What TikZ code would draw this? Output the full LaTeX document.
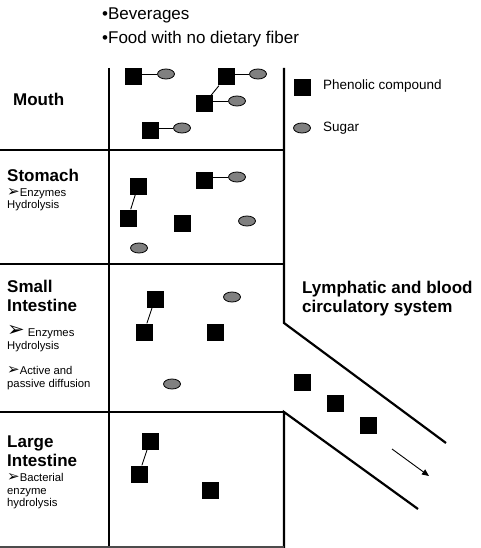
\documentclass[tikz,border=0pt]{standalone}
\usepackage{fontspec}
\setmainfont{Liberation Sans}
\newfontfamily\dejavu{DejaVu Sans}
\usetikzlibrary{shapes.geometric,arrows.meta}
\newcommand{\arrbul}{{\dejavu\fontsize{15}{12.8}\selectfont ➢}}
\newcommand{\arrbig}{{\dejavu\fontsize{21}{12.8}\selectfont ➢}}
\begin{document}
\begin{tikzpicture}[x=1pt,y=-1pt,
  phen/.style={fill=black,draw=none,minimum size=17pt,inner sep=0pt},
  sug/.style={ellipse,fill=black!50,draw=black,line width=0.8pt,minimum width=17pt,minimum height=10pt,inner sep=0pt},
  bond/.style={line width=0.9pt},
  wall/.style={line width=2.2pt},
  sep/.style={line width=1.2pt},
  big/.style={font=\fontsize{17}{19}\selectfont\bfseries,anchor=west,align=left,inner sep=0pt},
  mid/.style={font=\fontsize{13.5}{16}\selectfont,anchor=west,inner sep=0pt},
  small/.style={font=\fontsize{11.3}{12.8}\selectfont,anchor=north west,align=left,inner sep=0pt},
  top/.style={font=\fontsize{17}{19}\selectfont,anchor=west,inner sep=0pt}]
\useasboundingbox (0,0) rectangle (480,548);
% walls
\draw[wall] (109,68) -- (109,548);
\draw[wall] (284,68) -- (284,323) -- (446,443);
\draw[wall] (284,548) -- (284,412) -- (418,509);
% separators
\draw[sep] (0,150) -- (284,150);
\draw[sep] (0,264) -- (284,264);
\draw[sep] (0,412) -- (284,412);
\draw[sep,black!70] (0,547) -- (284,547);
% top text
\node[top] (bev) at (102,15) {\textbullet Beverages};
\node[top] (food) at (102,39) {\textbullet Food with no dietary fiber};
% labels
\node[big] (mouth) at (13,99) {Mouth};
\node[big] (stom) at (7,175) {Stomach};
\node[small] (stomt) at (7,188) {\arrbul Enzymes\\Hydrolysis};
\node[big,align=left] (si) at (7,296) {Small\\Intestine};
\node[small] (sit1) at (7,325) {\arrbig\ Enzymes\\Hydrolysis};
\node[small] (sit2) at (7,366) {\arrbul Active and\\passive diffusion};
\node[big,align=left] (li) at (7,451) {Large\\Intestine};
\node[small] (lit) at (7,473) {\arrbul Bacterial\\enzyme\\hydrolysis};
\node[big,align=left] (lymph) at (302,299) {Lymphatic and blood\\circulatory system};
% legend
\node[phen] (lp) at (302,88) {};
\node[mid] (lpt) at (323,86) {Phenolic compound};
\node[sug] (ls) at (302,128) {};
\node[mid] (lst) at (323,128) {Sugar};
% mouth
\node[phen] (m1) at (133,77) {};
\node[sug] (ms1) at (166,74) {};
\node[phen] (m2) at (226,77) {};
\node[sug] (ms2) at (258,74) {};
\node[phen] (m3) at (204,104) {};
\node[sug] (ms3) at (237,101) {};
\node[phen] (m4) at (150,131) {};
\node[sug] (ms4) at (182,128) {};
\draw[bond] (ms1.west) -- (ms1.west -| m1.east);
\draw[bond] (ms2.west) -- (ms2.west -| m2.east);
\draw[bond] (ms3.west) -- (ms3.west -| m3.east);
\draw[bond] (ms4.west) -- (ms4.west -| m4.east);
\draw[bond] (m2) -- (m3);
% stomach
\node[phen] (s1) at (138,186) {};
\node[phen] (s2) at (128,218) {};
\node[phen] (s3) at (204,180) {};
\node[sug] (ss3) at (237,177) {};
\node[phen] (s4) at (182,223) {};
\node[sug] (ss5) at (247,221) {};
\node[sug] (ss6) at (139,248) {};
\draw[bond] (s1) -- (s2);
\draw[bond] (ss3.west) -- (ss3.west -| s3.east);
% small intestine
\node[phen] (i1) at (155,299) {};
\node[phen] (i2) at (144,332) {};
\node[phen] (i3) at (215,332) {};
\node[sug] (is1) at (232,297) {};
\node[sug] (is2) at (172,384) {};
\draw[bond] (i1) -- (i2);
% large intestine
\node[phen] (l1) at (150,441) {};
\node[phen] (l2) at (139,474) {};
\node[phen] (l3) at (210,490) {};
\draw[bond] (l1) -- (l2);
% circulatory
\node[phen] (c1) at (302,382) {};
\node[phen] (c2) at (335,403) {};
\node[phen] (c3) at (368,425) {};
\coordinate (a1) at (392,449);
\coordinate (a2) at (429,476);
\draw[line width=0.9pt,-{Triangle[length=7pt,width=6pt]}] (a1) -- (a2);
\end{tikzpicture}
\end{document}
